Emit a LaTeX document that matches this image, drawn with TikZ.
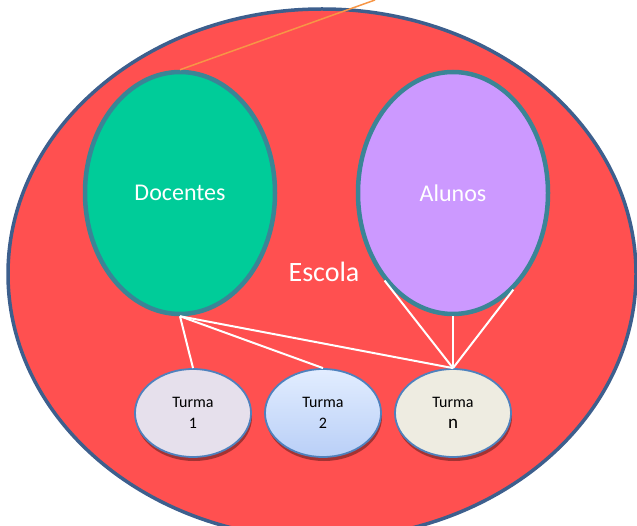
\documentclass[tikz,border=0pt]{standalone}
\usepackage{fontspec}
\setmainfont{Carlito}
\usepackage{tikz}
\usetikzlibrary{shapes}
\usetikzlibrary{shadows}
\definecolor{escolared}{HTML}{FF5050}
\definecolor{escolablue}{HTML}{3D5F8D}
\definecolor{docgreen}{HTML}{00CC99}
\definecolor{alupurple}{HTML}{CC99FF}
\definecolor{ringteal}{HTML}{3A8596}
\definecolor{turmaline}{HTML}{4F81BD}
\definecolor{linkorange}{HTML}{F79646}
\definecolor{turmaum}{HTML}{E6E0EC}
\definecolor{turmadoistop}{HTML}{E2EDFF}
\definecolor{turmadoisbot}{HTML}{B9CFF7}
\definecolor{turmaene}{HTML}{EEECE1}
\tikzset{
	big node/.style={ellipse,draw=ringteal,line width=4.5pt,minimum width=190pt,minimum height=242pt,
		text=white,font=\fontsize{24}{28}\selectfont},
	turma node/.style={ellipse,draw=turmaline,line width=1.8pt,minimum width=116pt,minimum height=88pt,
		align=center,font=\fontsize{16}{21}\selectfont,
		drop shadow={shadow xshift=1pt,shadow yshift=-4pt,fill=black!45!escolared,opacity=0.8}},
	link/.style={white,line width=2pt}
}
\begin{document}
\begin{tikzpicture}[x=1pt,y=-1pt]
		\useasboundingbox (0,0) rectangle (637,526);
		\node [ellipse,draw=escolablue,fill=escolared,line width=3.5pt,minimum width=628pt,minimum height=530pt] (esc) at (322,274) {};
		\node [text=white,font=\fontsize{28}{32}\selectfont] (escola) at (324,272) {Escola};
		\node [big node,fill=docgreen] (doc) at (180,193) {\raisebox{-3pt}{Docentes}};
		\node [big node,fill=alupurple] (alu) at (453,193) {\raisebox{-3pt}{Alunos}};
		\node [turma node,fill=turmaum] (t1) at (193,413) {Turma\\1};
		\node [turma node,top color=turmadoistop,bottom color=turmadoisbot] (t2) at (323,413) {Turma\\2};
		\node [turma node,fill=turmaene] (tn) at (453,413) {Turma\\\fontsize{19}{21}\selectfont n};
		\coordinate (fim) at (375,0);
		\draw [linkorange,line width=1.5pt] (doc.north) -- (fim);
		% ligacoes
		\draw [link] (doc.south) -- (t1.north);
		\draw [link] (doc.south) -- (t2.north);
		\draw [link] (doc.south) -- (tn.north);
		\draw [link] (alu.232) -- (tn.north);
		\draw [link] (alu.south) -- (tn.north);
		\draw [link] (alu.302) -- (tn.north);
\end{tikzpicture}
\end{document}
